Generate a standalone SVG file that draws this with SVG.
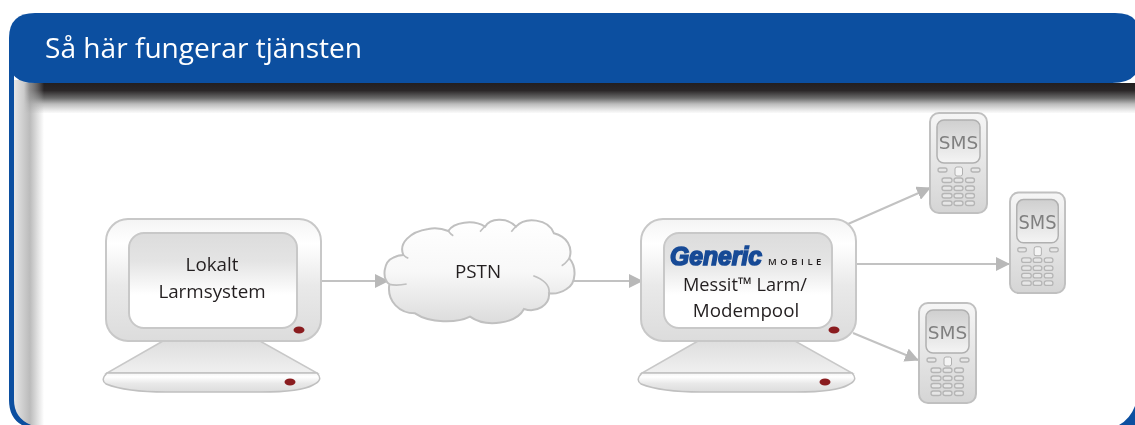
<svg xmlns="http://www.w3.org/2000/svg" width="1135" height="425" viewBox="0 0 1135 425">
<style>
.t{font-family:"Open Sans","Noto Sans","Liberation Sans",sans-serif;fill:#231f20;font-size:18.800px;text-anchor:middle}
.c{fill:none;stroke:#c2c2c2;stroke-width:2}
.led{fill:#8a1c1f}
.k{fill:#e6e6e6;stroke:#b5b5b5;stroke-width:1.300}
.sms{font-family:"DejaVu Sans",sans-serif;font-size:18.500px;fill:#808080;text-anchor:middle}
</style>
<defs>
<linearGradient id="sh" x1="0" y1="0" x2="0" y2="1"><stop offset="0" stop-color="#231f20"/><stop offset=".25" stop-color="#2b2728"/><stop offset=".5" stop-color="#6a6a6a"/><stop offset=".7" stop-color="#bbb"/><stop offset=".93" stop-color="#eee"/><stop offset="1" stop-color="#fafafa"/></linearGradient>
<linearGradient id="sl" x1="0" y1="0" x2="1" y2="0"><stop offset="0" stop-color="#e6e6e6"/><stop offset=".53" stop-color="#bbb"/><stop offset="1" stop-color="#fff"/></linearGradient>
<linearGradient id="fd" x1="0" y1="0" x2="1" y2="0"><stop offset="0" stop-color="#fff"/><stop offset="1" stop-color="#fff" stop-opacity="0"/></linearGradient>
<linearGradient id="g" x1="0" y1="0" x2="0" y2="1"><stop offset="0" stop-color="#f4f4f4"/><stop offset=".2" stop-color="#fff"/><stop offset=".55" stop-color="#e9e9e9"/><stop offset="1" stop-color="#dcdcdc"/></linearGradient>
<linearGradient id="sc" x1="0" y1="0" x2="0" y2="1"><stop offset="0" stop-color="#dcdcdc"/><stop offset=".3" stop-color="#e4e4e4"/><stop offset=".65" stop-color="#fff"/><stop offset="1" stop-color="#fff"/></linearGradient>
<linearGradient id="ph" x1="0" y1="0" x2="0" y2="1"><stop offset="0" stop-color="#f6f6f6"/><stop offset="1" stop-color="#d5d5d5"/></linearGradient>
<linearGradient id="ps" x1="0" y1="0" x2="0" y2="1"><stop offset="0" stop-color="#cfcfcf"/><stop offset="1" stop-color="#f4f4f4"/></linearGradient>
<linearGradient id="cl" x1="0" y1="0" x2="0" y2="1"><stop offset="0" stop-color="#fff"/><stop offset=".5" stop-color="#f8f8f8"/><stop offset="1" stop-color="#dcdcdc"/></linearGradient>
<linearGradient id="bs" x1="0" y1="0" x2="0" y2="1"><stop offset="0" stop-color="#dedede"/><stop offset="1" stop-color="#f0f0f0"/></linearGradient>
<marker id="a" markerUnits="userSpaceOnUse" markerWidth="14" markerHeight="14" refX="13" refY="7" orient="auto"><path d="M0 0L14 7L0 14Z" fill="#b8b8b8"/></marker>
<g id="mon">
<path d="M57 122L1 154H211L154 122Z" fill="url(#bs)" stroke="#c8c8c8" stroke-width="1.500"/>
<path d="M1 154Q-6 161 0 165Q20 173 60 173H155Q195 173 207 166Q218 161 211 154Z" fill="url(#g)" stroke="#c0c0c0" stroke-width="1.500"/>
<rect x="0" y="0" width="215" height="122" rx="22" fill="url(#g)" stroke="#c8c8c8" stroke-width="2"/>
<rect x="23" y="14" width="168" height="95" rx="15" fill="url(#sc)" stroke="#c8c8c8" stroke-width="2"/>
<ellipse class="led" cx="193" cy="111" rx="5.500" ry="3.500"/>
<ellipse class="led" cx="184" cy="163" rx="5.500" ry="3.500"/>
</g>
<g id="phone">
<rect x="0" y="0" width="57" height="100" rx="9" fill="url(#ph)" stroke="#c0c0c0" stroke-width="2"/>
<rect x="7" y="7" width="43" height="43" rx="7" fill="url(#ps)" stroke="#b0b0b0" stroke-width="1.500"/>
<text class="sms" x="28.500" y="36">SMS</text>
<rect x="25" y="54" width="7.500" height="9" rx="2" fill="#f4f4f4" stroke="#b0b0b0"/>
<rect class="k" x="8" y="55" width="9" height="4" rx="2"/><rect class="k" x="41" y="55" width="9" height="4" rx="2"/>
<rect class="k" x="12" y="65" width="10" height="4.500" rx="2.200"/><rect class="k" x="24" y="65" width="9" height="4.500" rx="2.200"/><rect class="k" x="35.500" y="65" width="9" height="4.500" rx="2.200"/>
<rect class="k" x="12" y="73" width="10" height="4.500" rx="2.200"/><rect class="k" x="24" y="73" width="9" height="4.500" rx="2.200"/><rect class="k" x="35.500" y="73" width="9" height="4.500" rx="2.200"/>
<rect class="k" x="12" y="80.500" width="10" height="4.500" rx="2.200"/><rect class="k" x="24" y="80.500" width="9" height="4.500" rx="2.200"/><rect class="k" x="35.500" y="80.500" width="9" height="4.500" rx="2.200"/>
<rect class="k" x="12" y="88" width="10" height="4.500" rx="2.200"/><rect class="k" x="24" y="88" width="9" height="4.500" rx="2.200"/><rect class="k" x="35.500" y="88" width="9" height="4.500" rx="2.200"/>
</g>
</defs>
<rect width="1135" height="425" fill="#fff"/>
<g id="frame">
<rect x="24" y="83" width="1111" height="30" fill="url(#sh)"/>
<rect x="24" y="83" width="20" height="30" fill="url(#fd)"/>
<rect x="14" y="80" width="30" height="345" fill="url(#sl)" style="mix-blend-mode:multiply"/>
<path d="M0 395H9V400Q9 418 22 425H0Z" fill="#fff"/>
<path d="M9 60V400Q9 418 22 425H31Q14 418 14 400V60Z" fill="#0c4fa0"/>
<path d="M1119 425Q1130 419 1135 406V425Z" fill="#0c4fa0"/>
<path d="M35 13H1115Q1130 13 1135 20V75Q1128 83 1112 83H35Q9 83 9 60V38Q9 13 35 13Z" fill="#0c4fa0"/>
<text x="45" y="58" font-family="'Open Sans','Noto Sans',sans-serif" font-size="28.100" fill="#fff">Så här fungerar tjänsten</text>
</g>
<g id="connectors">
<path class="c" d="M321 281H388" marker-end="url(#a)"/>
<path class="c" d="M572 281H642" marker-end="url(#a)"/>
<path class="c" d="M848 224L930 188" marker-end="url(#a)"/>
<path class="c" d="M856 264H1009" marker-end="url(#a)"/>
<path class="c" d="M853 333L918 360" marker-end="url(#a)"/>
</g>
<g id="lokalt"><use href="#mon" x="106" y="219"/><text class="t" x="212" y="271">Lokalt</text><text class="t" x="212" y="298">Larmsystem</text></g>
<g id="pstn"><g transform="translate(370 215) scale(.3333)"><path d="M58 208C35 190 40 140 70 128C80 122 90 120 100 120C85 85 120 50 175 42C195 38 215 40 235 48C250 22 310 12 345 35C360 10 410 5 438 35C465 5 535 10 552 55C590 65 610 95 598 130C620 155 620 205 590 222C570 235 555 238 537 235C540 270 500 295 462 282C440 325 350 340 300 305C260 325 180 325 135 295C90 295 50 260 58 208Z" fill="url(#cl)" stroke="#c0c0c0" stroke-width="6"/><path d="M58 208C75 212 95 210 110 207M490 182C525 195 540 215 537 235M598 130C590 140 585 148 575 152M345 35C338 40 335 45 330 50M438 35C432 40 428 45 424 50M235 48C240 55 245 60 250 62M100 120C105 125 110 128 115 130" fill="none" stroke="#c0c0c0" stroke-width="5"/></g><text class="t" x="478" y="278">PSTN</text></g>
<g id="messit"><use href="#mon" x="641" y="219"/>
<text x="670" y="265" font-family="'Liberation Sans',sans-serif" font-weight="700" font-style="italic" font-size="25" fill="#174a96" textLength="92" lengthAdjust="spacingAndGlyphs" stroke="#174a96" stroke-width="1.600">Generic</text>
<text x="768" y="265" font-family="'Open Sans','Noto Sans',sans-serif" font-weight="600" font-size="9.500" fill="#231f20" letter-spacing="3.500">MOBILE</text>
<text class="t" x="745" y="291" textLength="124" lengthAdjust="spacingAndGlyphs">Messit™ Larm/</text><text class="t" x="746" y="317">Modempool</text></g>
<g id="sms1"><use href="#phone" x="930" y="113"/></g>
<g id="sms2"><use href="#phone" transform="translate(1010 192.500) scale(.965 1.005)"/></g>
<g id="sms3"><use href="#phone" x="919" y="303"/></g>
</svg>
